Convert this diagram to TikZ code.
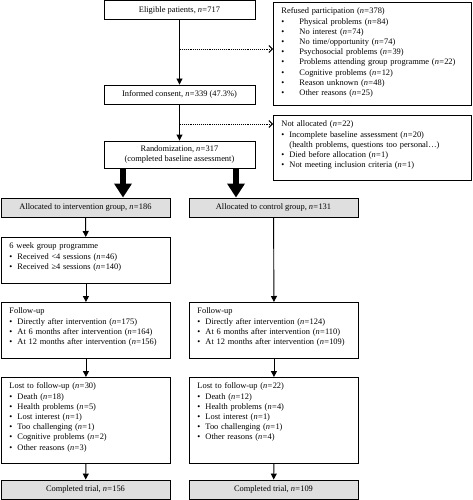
\documentclass[tikz,border=0pt]{standalone}
\usepackage{fontspec}
\setmainfont{Liberation Serif}
\usetikzlibrary{arrows.meta}
\newcommand{\nv}[1]{\textit{n}\kern0.3pt=\kern0.3pt#1}
\newcommand{\blt}[1][8pt]{\makebox[#1][l]{\textbullet}}
\begin{document}
\begin{tikzpicture}[x=1pt, y=-1pt, line width=0.9pt,
		every node/.style={font=\fontsize{8.4}{10.2}\selectfont},
		c/.style={draw, align=center, minimum width=151pt, minimum height=19pt, inner sep=1pt},
		g/.style={c, fill=gray!25, minimum width=169pt},
		l/.style={draw, anchor=north west, align=left, inner xsep=8pt, inner ysep=3.5pt, text height=8pt},
		a/.style={-{Triangle[width=6pt, length=6pt]}},
		d/.style={densely dotted, -{Straight Barb[width=7pt, length=3.5pt]}},
		fat/.style={line width=6pt, -{Triangle[width=17pt, length=14pt]}}]
	\useasboundingbox (0,0) rectangle (472,500);

	\node[c] (elig) at (179.5, 10) {Eligible patients, \nv{717}};
	\node[c] (cons) at (179.5, 94.5) {Informed consent, \nv{339} (47.3\%)};
	\node[c, minimum height=27pt] (rand) at (179.5, 154.5) {Randomization, \nv{317}\\(completed baseline assessment)};

	\node[l, text width=182pt, text depth=88pt] (refused) at (273, 2) {Refused participation (\nv{378})\\
		\blt[18pt]Physical problems (\nv{84})\\
		\blt[18pt]No interest (\nv{74})\\
		\blt[18pt]No time/opportunity (\nv{74})\\
		\blt[18pt]Psychosocial problems (\nv{39})\\
		\blt[18pt]Problems attending group programme (\nv{22})\\
		\blt[18pt]Cognitive problems (\nv{12})\\
		\blt[18pt]Reason unknown (\nv{48})\\
		\blt[18pt]Other reasons (\nv{25})};
	\node[l, text width=182pt, text depth=50pt] (notall) at (273, 115) {Not allocated (\nv{22})\\
		\blt Incomplete baseline assessment (\nv{20})\\
		\hspace*{8pt}(health problems, questions too personal\dots)\\
		\blt Died before allocation (\nv{1})\\
		\blt Not meeting inclusion criteria (\nv{1})};

	\node[g] (allocI) at (85.5, 207.5) {Allocated to intervention group, \nv{186}};
	\node[g] (allocC) at (273.5, 207.5) {Allocated to control group, \nv{131}};

	\node[l, text width=153pt, text depth=31pt] (prog) at (1, 237) {6 week group programme\\
		\blt Received <4 sessions (\nv{46})\\
		\blt Received ≥4 sessions (\nv{140})};

	\node[l, text width=153pt, text depth=41pt] (fuI) at (1, 302) {Follow-up\\
		\blt Directly after intervention (\nv{175})\\
		\blt At 6 months after intervention (\nv{164})\\
		\blt At 12 months after intervention (\nv{156})};
	\node[l, text width=153pt, text depth=41pt] (fuC) at (189, 302) {Follow-up\\
		\blt Directly after intervention (\nv{124})\\
		\blt At 6 months after intervention (\nv{110})\\
		\blt At 12 months after intervention (\nv{109})};

	\node[l, text width=153pt, text depth=71pt] (lostI) at (1, 377) {Lost to follow-up (\nv{30})\\
		\blt Death (\nv{18})\\
		\blt Health problems (\nv{5})\\
		\blt Lost interest (\nv{1})\\
		\blt Too challenging (\nv{1})\\
		\blt Cognitive problems (\nv{2})\\
		\blt Other reasons (\nv{3})};
	\node[l, text width=153pt, text depth=71pt] (lostC) at (189, 377) {Lost to follow-up (\nv{22})\\
		\blt Death (\nv{12})\\
		\blt Health problems (\nv{4})\\
		\blt Lost interest (\nv{1})\\
		\blt Too challenging (\nv{1})\\
		\blt Other reasons (\nv{4})};

	\node[g] (doneI) at (85.5, 489.5) {Completed trial, \nv{156}};
	\node[g] (doneC) at (273.5, 489.5) {Completed trial, \nv{109}};

	\coordinate (d1) at (180, 49);
	\coordinate (d2) at (180, 124);

	\draw[a] (elig) -- (cons);
	\draw[a] (cons) -- (rand);
	\draw[d] (d1) -- (d1 -| refused.west);
	\draw[d] (d2) -- (d2 -| notall.west);
	\draw[fat] ([xshift=-56.5pt]rand.south) -- ([xshift=-56.5pt]rand.south |- allocI.north);
	\draw[fat] ([xshift=56.5pt]rand.south) -- ([xshift=56.5pt]rand.south |- allocC.north);
	\draw[a] (allocI) -- (prog);
	\draw[a] (prog) -- (prog.south |- fuI.north);
	\draw[a] (fuI.south) -- (lostI.north);
	\draw[a] (lostI.south) -- (doneI);
	\draw[a] (allocC) -- (fuC.north);
	\draw[a] (fuC.south) -- (lostC.north);
	\draw[a] (lostC.south) -- (doneC);
\end{tikzpicture}
\end{document}
